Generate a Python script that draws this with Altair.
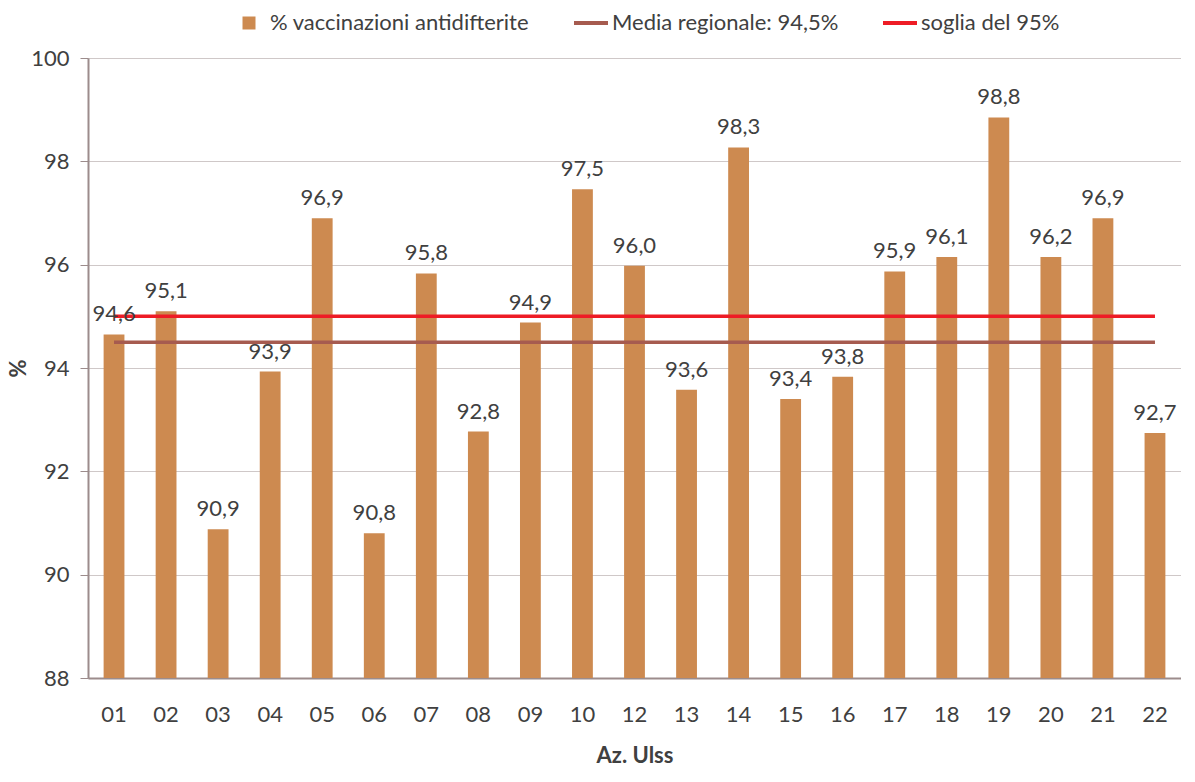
import altair as alt
import pandas as pd

categorie = ["01", "02", "03", "04", "05", "06", "07", "08", "09", "10", "12",
             "13", "14", "15", "16", "17", "18", "19", "20", "21", "22"]
valori = [94.65, 95.1, 90.88, 93.93, 96.9, 90.8, 95.83, 92.77, 94.88, 97.46, 95.98,
          93.58, 98.27, 93.4, 93.83, 95.87, 96.15, 98.85, 96.15, 96.9, 92.74]
etichette = ["94,6", "95,1", "90,9", "93,9", "96,9", "90,8", "95,8", "92,8", "94,9", "97,5", "96,0",
             "93,6", "98,3", "93,4", "93,8", "95,9", "96,1", "98,8", "96,2", "96,9", "92,7"]
media_regionale = 94.5
soglia = 95.0

serie = ["% vaccinazioni antidifterite", "Media regionale: 94,5%", "soglia del 95%"]
colori = ["#CD8A50", "#A65B4F", "#EE1C25"]

FONT = "Lato"
TXT = "#404040"
FS = 22

bars_df = pd.DataFrame({"ulss": categorie, "valore": valori, "etichetta": etichette,
                        "serie": serie[0]})
lines_df = pd.DataFrame({
    "ulss": categorie * 2,
    "valore": [media_regionale] * len(categorie) + [soglia] * len(categorie),
    "serie": [serie[1]] * len(categorie) + [serie[2]] * len(categorie),
})

x_enc = alt.X("ulss:N", sort=categorie,
              scale=alt.Scale(paddingInner=0.6, paddingOuter=0.3),
              axis=alt.Axis(title="Az. Ulss", labelAngle=0, ticks=False,
                            labelFontSize=FS, labelColor=TXT, labelFont=FONT,
                            labelPadding=26, titleFontSize=FS, titleFont=FONT,
                            titleFontWeight="bold", titleColor=TXT, titlePadding=20,
                            domainColor="#9C8C8C", domainWidth=2, grid=False))
y_scale = alt.Scale(domain=[88, 100], nice=False, zero=False)
y_axis = alt.Axis(title="%", values=[88, 90, 92, 94, 96, 98, 100],
                  labelFontSize=FS, labelColor=TXT, labelFont=FONT, labelPadding=11,
                  tickSize=8, tickColor="#9C8C8C", domainColor="#9C8C8C", domainWidth=2,
                  gridColor="#CFC8C8", gridWidth=1.2,
                  titleFontSize=FS, titleFont=FONT, titleFontWeight="bold",
                  titleColor=TXT, titlePadding=0)

color_scale = alt.Scale(domain=serie, range=colori)

legend = alt.Legend(
    title=None, orient="none", direction="horizontal", legendX=150, legendY=-46,
    labelFontSize=FS, labelFont=FONT, labelColor=TXT, columnPadding=36,
    labelOffset=10, labelLimit=400,
    symbolType={"expr": "datum.index === 0 ? 'square' : 'stroke'"},
    symbolSize={"expr": "datum.index === 0 ? 169 : 1156"},
    symbolStrokeColor={"expr": "scale('color', datum.value)"},
    symbolStrokeWidth={"expr": "datum.index === 0 ? 0 : 4"},
)

bars = alt.Chart(bars_df).mark_bar(clip=True).encode(
    x=x_enc,
    y=alt.Y("valore:Q", scale=y_scale, axis=y_axis),
    y2=alt.datum(88),
    color=alt.Color("serie:N", scale=color_scale, legend=legend),
)

labels = alt.Chart(bars_df).mark_text(
    baseline="bottom", dy=-8, fontSize=FS, font=FONT, color=TXT
).encode(
    x=alt.X("ulss:N", sort=categorie),
    y=alt.Y("valore:Q", scale=y_scale),
    text="etichetta:N",
)

lines = alt.Chart(lines_df).mark_line(strokeWidth=3.5).encode(
    x=alt.X("ulss:N", sort=categorie),
    y=alt.Y("valore:Q", scale=y_scale),
    color=alt.Color("serie:N", scale=color_scale, legend=legend),
    detail="serie:N",
)

chart = alt.layer(bars, lines, labels).properties(
    width=1093, height=620,
    autosize=alt.AutoSizeParams(type="none"),
    padding={"left": 80, "top": 50, "right": 0, "bottom": 94},
).configure_view(stroke=None).configure(background="white")

chart.save("out.html", embed_options={"renderer": "svg", "actions": False})
